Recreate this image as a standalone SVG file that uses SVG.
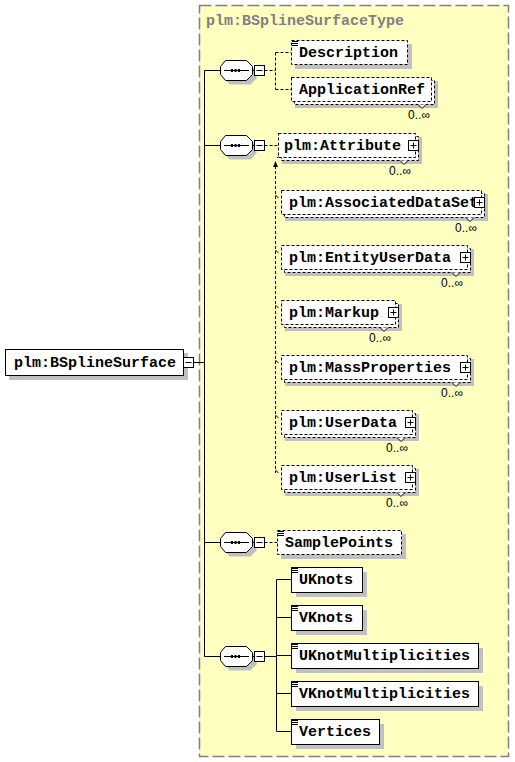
<svg xmlns="http://www.w3.org/2000/svg" width="515" height="762" viewBox="0 0 515 762">
<style>
.t{font-family:"Liberation Mono","DejaVu Sans Mono",monospace;font-weight:bold;font-size:15px;fill:#000}
.title{font-family:"Liberation Mono","DejaVu Sans Mono",monospace;font-weight:bold;font-size:15px;fill:#808080}
.card{font-family:"Liberation Sans",Arial,sans-serif;font-size:12px;fill:#000;text-anchor:end}
.sh{fill:#c0c0c0;stroke:none}
.dbox{fill:#fff;stroke:#000;stroke-width:1;stroke-dasharray:3,2}
.sbox{fill:#fff;stroke:#000;stroke-width:1}
.ln{fill:none;stroke:#000;stroke-width:1}
.dl{fill:none;stroke:#000;stroke-width:1;stroke-dasharray:3,2}
.btn{fill:#fff;stroke:#000;stroke-width:1}
</style>
<defs>
<g id="doc"><path class="ln" d="M1 1.5H7M1 3.5H7M1 5.5H7"/></g>
<g id="seq">
<polygon class="sh" points="9.5,4.5 30.5,4.5 36.5,10.5 36.5,18.5 30.5,24.5 9.5,24.5 4.5,18.5 4.5,10.5"/>
<polygon fill="#fff" stroke="#000" points="5.5,0.5 26.5,0.5 32.5,6.5 32.5,14.5 26.5,20.5 5.5,20.5 0.5,14.5 0.5,6.5"/>
<path class="ln" d="M4 10.5H29M32.5 10.5H34.5"/>
<rect x="11" y="9" width="2" height="3" fill="#000"/>
<rect x="14.5" y="9" width="2" height="3" fill="#000"/>
<rect x="18" y="9" width="2" height="3" fill="#000"/>
<rect class="btn" x="34.5" y="5.5" width="10" height="10"/>
<path class="ln" d="M36.5 10.5H42.5"/>
</g>
</defs>

<rect x="199.5" y="5.5" width="309" height="751" fill="#ffffc0" stroke="#808080" stroke-width="1.5" stroke-dasharray="12,4"/>
<text class="title" x="206" y="25">plm:BSplineSurfaceType</text>

<g id="connectors">
<path class="ln" d="M193.5 362.5H204.5M204.5 70.5V656.5M204.5 70.5H220.5M204.5 145.5H220.5M204.5 542.5H220.5M204.5 656.5H220.5"/>
<path class="dl" d="M264.5 70.5H275.5M275.5 52.5V89.5M275.5 52.5H291M275.5 89.5H291"/>
<path class="dl" d="M264.5 145.5H278M275.5 166V473"/>
<polygon points="273,167 278,167 275.5,161" fill="#000"/>
<path class="ln" d="M277 158L281 154"/>
<polygon points="283,152 278.5,153.5 281.5,156.5" fill="#000"/>
<path class="ln" d="M275.5 195L278.5 198M275.5 250L278.5 253M275.5 305L278.5 308M275.5 360L278.5 363M275.5 415L278.5 418M275.5 470L278.5 473"/>
<path class="dl" d="M264.5 542.5H277"/>
<path class="ln" d="M264.5 656.5H276.5M276.5 579.5V731.5M276.5 579.5H291M276.5 617.5H291M276.5 655.5H291M276.5 693.5H291M276.5 731.5H291"/>
</g>

<g id="BSplineSurface" transform="translate(5,349)">
<rect class="sh" x="4" y="4" width="179" height="27"/>
<rect class="sbox" x="0.5" y="0.5" width="178" height="26"/>
<text class="t" x="9" y="18">plm:BSplineSurface</text>
<rect class="btn" x="178.5" y="8.5" width="10" height="10"/>
<path class="ln" d="M180.5 13.5H186.5"/>
</g>

<g id="seq1" transform="translate(220,60)"><use href="#seq"/></g>
<g id="seq2" transform="translate(220,135)"><use href="#seq"/></g>
<g id="seq3" transform="translate(220,532)"><use href="#seq"/></g>
<g id="seq4" transform="translate(220,646)"><use href="#seq"/></g>

<g id="Description" transform="translate(291,40)">
<rect class="sh" x="4" y="4" width="117" height="25"/>
<rect class="dbox" x="0.5" y="0.5" width="116" height="24"/>
<use href="#doc"/>
<text class="t" x="8" y="17">Description</text>
</g>

<g id="ApplicationRef" transform="translate(291,77)">
<rect class="sh" x="4" y="4" width="143" height="27"/>
<rect class="dbox" x="3.5" y="3.5" width="140" height="24"/>
<rect class="dbox" x="0.5" y="0.5" width="140" height="24"/>
<text class="t" x="8" y="17">ApplicationRef</text>
<path d="M127 27.5L131 31.5L135 27.5" fill="#fff" stroke="#000"/>
<text class="card" x="139" y="42">0..∞</text>
</g>

<g id="Attribute" transform="translate(278,133)">
<rect class="sh" x="4" y="4" width="140" height="27"/>
<rect class="dbox" x="3.5" y="3.5" width="137" height="24"/>
<rect class="dbox" x="0.5" y="0.5" width="137" height="24"/>
<text class="t" x="6" y="17">plm:Attribute</text>
<rect class="btn" x="130.5" y="7.5" width="10" height="10"/>
<path class="ln" d="M132.5 12.5H138.5M135.5 9.5V15.5"/>
<path d="M122 27.5L126 31.5L130 27.5" fill="#fff" stroke="#000"/>
<text class="card" x="133" y="42">0..∞</text>
</g>

<g id="AssociatedDataSet" transform="translate(281,190)">
<rect class="sh" x="4" y="4" width="203" height="27"/>
<rect class="dbox" x="3.5" y="3.5" width="200" height="24"/>
<rect class="dbox" x="0.5" y="0.5" width="200" height="24"/>
<text class="t" x="8" y="17">plm:AssociatedDataSet</text>
<rect class="btn" x="193.5" y="7.5" width="10" height="10"/>
<path class="ln" d="M195.5 12.5H201.5M198.5 9.5V15.5"/>
<path d="M185 27.5L189 31.5L193 27.5" fill="#fff" stroke="#000"/>
<text class="card" x="196" y="42">0..∞</text>
</g>

<g id="EntityUserData" transform="translate(281,245)">
<rect class="sh" x="4" y="4" width="189" height="27"/>
<rect class="dbox" x="3.5" y="3.5" width="186" height="24"/>
<rect class="dbox" x="0.5" y="0.5" width="186" height="24"/>
<text class="t" x="8" y="17">plm:EntityUserData</text>
<rect class="btn" x="179.5" y="7.5" width="10" height="10"/>
<path class="ln" d="M181.5 12.5H187.5M184.5 9.5V15.5"/>
<path d="M171 27.5L175 31.5L179 27.5" fill="#fff" stroke="#000"/>
<text class="card" x="182" y="42">0..∞</text>
</g>

<g id="Markup" transform="translate(281,300)">
<rect class="sh" x="4" y="4" width="117" height="27"/>
<rect class="dbox" x="3.5" y="3.5" width="114" height="24"/>
<rect class="dbox" x="0.5" y="0.5" width="114" height="24"/>
<text class="t" x="8" y="17">plm:Markup</text>
<rect class="btn" x="107.5" y="7.5" width="10" height="10"/>
<path class="ln" d="M109.5 12.5H115.5M112.5 9.5V15.5"/>
<path d="M99 27.5L103 31.5L107 27.5" fill="#fff" stroke="#000"/>
<text class="card" x="110" y="42">0..∞</text>
</g>

<g id="MassProperties" transform="translate(281,355)">
<rect class="sh" x="4" y="4" width="189" height="27"/>
<rect class="dbox" x="3.5" y="3.5" width="186" height="24"/>
<rect class="dbox" x="0.5" y="0.5" width="186" height="24"/>
<text class="t" x="8" y="17">plm:MassProperties</text>
<rect class="btn" x="179.5" y="7.5" width="10" height="10"/>
<path class="ln" d="M181.5 12.5H187.5M184.5 9.5V15.5"/>
<path d="M171 27.5L175 31.5L179 27.5" fill="#fff" stroke="#000"/>
<text class="card" x="182" y="42">0..∞</text>
</g>

<g id="UserData" transform="translate(281,410)">
<rect class="sh" x="4" y="4" width="134" height="27"/>
<rect class="dbox" x="3.5" y="3.5" width="131" height="24"/>
<rect class="dbox" x="0.5" y="0.5" width="131" height="24"/>
<text class="t" x="8" y="17">plm:UserData</text>
<rect class="btn" x="124.5" y="7.5" width="10" height="10"/>
<path class="ln" d="M126.5 12.5H132.5M129.5 9.5V15.5"/>
<path d="M116 27.5L120 31.5L124 27.5" fill="#fff" stroke="#000"/>
<text class="card" x="127" y="42">0..∞</text>
</g>

<g id="UserList" transform="translate(281,465)">
<rect class="sh" x="4" y="4" width="134" height="27"/>
<rect class="dbox" x="3.5" y="3.5" width="131" height="24"/>
<rect class="dbox" x="0.5" y="0.5" width="131" height="24"/>
<text class="t" x="8" y="17">plm:UserList</text>
<rect class="btn" x="124.5" y="7.5" width="10" height="10"/>
<path class="ln" d="M126.5 12.5H132.5M129.5 9.5V15.5"/>
<path d="M116 27.5L120 31.5L124 27.5" fill="#fff" stroke="#000"/>
<text class="card" x="127" y="42">0..∞</text>
</g>

<g id="SamplePoints" transform="translate(277,530)">
<rect class="sh" x="4" y="4" width="125" height="25"/>
<rect class="dbox" x="0.5" y="0.5" width="124" height="24"/>
<use href="#doc"/>
<text class="t" x="8" y="17">SamplePoints</text>
</g>

<g id="UKnots" transform="translate(291,567)">
<rect class="sh" x="5" y="5" width="71" height="25"/>
<rect class="sbox" x="0.5" y="0.5" width="71" height="25"/>
<use href="#doc"/>
<text class="t" x="8" y="17">UKnots</text>
</g>

<g id="VKnots" transform="translate(291,605)">
<rect class="sh" x="5" y="5" width="71" height="25"/>
<rect class="sbox" x="0.5" y="0.5" width="71" height="25"/>
<use href="#doc"/>
<text class="t" x="8" y="17">VKnots</text>
</g>

<g id="UKnotMultiplicities" transform="translate(291,643)">
<rect class="sh" x="5" y="5" width="187" height="25"/>
<rect class="sbox" x="0.5" y="0.5" width="187" height="25"/>
<use href="#doc"/>
<text class="t" x="8" y="17">UKnotMultiplicities</text>
</g>

<g id="VKnotMultiplicities" transform="translate(291,681)">
<rect class="sh" x="5" y="5" width="187" height="25"/>
<rect class="sbox" x="0.5" y="0.5" width="187" height="25"/>
<use href="#doc"/>
<text class="t" x="8" y="17">VKnotMultiplicities</text>
</g>

<g id="Vertices" transform="translate(291,719)">
<rect class="sh" x="5" y="5" width="88" height="25"/>
<rect class="sbox" x="0.5" y="0.5" width="88" height="25"/>
<use href="#doc"/>
<text class="t" x="8" y="17">Vertices</text>
</g>
</svg>
